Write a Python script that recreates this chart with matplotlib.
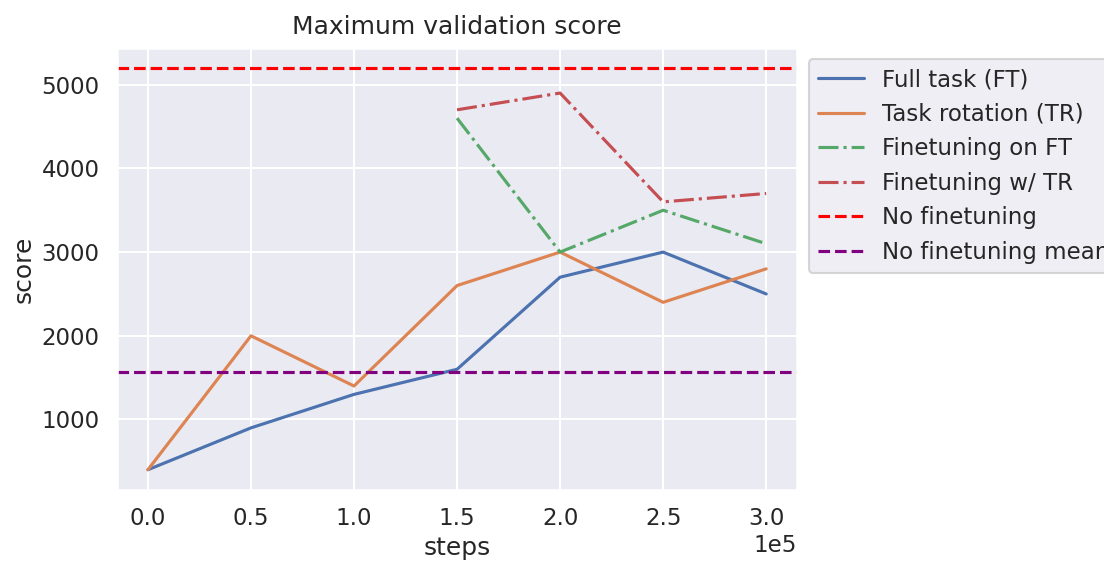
import matplotlib
matplotlib.use("Agg")
import matplotlib.pyplot as plt
import seaborn as sns

steps = [0, 50000, 100000, 150000, 200000, 250000, 300000]
full_task = [400, 900, 1300, 1600, 2700, 3000, 2500]
task_rotation = [400, 2000, 1400, 2600, 3000, 2400, 2800]

ft_steps = [150000, 200000, 250000, 300000]
finetune_ft = [4600, 3000, 3500, 3100]
finetune_tr = [4700, 4900, 3600, 3700]

no_finetune = 5200
no_finetune_mean = 1570

sns.set_theme(context="talk", style="darkgrid")
plt.rcParams["font.family"] = ["DejaVu Sans"]
pal = sns.color_palette("deep")

fig = plt.figure(figsize=(11.04, 5.63), dpi=100)
ax = fig.add_axes([0.106, 0.130, 0.616, 0.785])

ax.plot(steps, full_task, color=pal[0], label="Full task (FT)")
ax.plot(steps, task_rotation, color=pal[1], label="Task rotation (TR)")
ax.plot(ft_steps, finetune_ft, color=pal[2], ls="-.", label="Finetuning on FT")
ax.plot(ft_steps, finetune_tr, color=pal[3], ls="-.", label="Finetuning w/ TR")
ax.axhline(no_finetune, color="red", ls="--", label="No finetuning")
ax.axhline(no_finetune_mean, color="purple", ls="--", label="No finetuning mean")

ax.ticklabel_format(axis="x", style="sci", scilimits=(0, 0))
ax.set_xlabel("steps")
ax.set_ylabel("score")
ax.set_title("Maximum validation score", pad=10)

ax.legend(loc="upper left", bbox_to_anchor=(1.0, 1.0))

fig.savefig("out.png", dpi=100)
